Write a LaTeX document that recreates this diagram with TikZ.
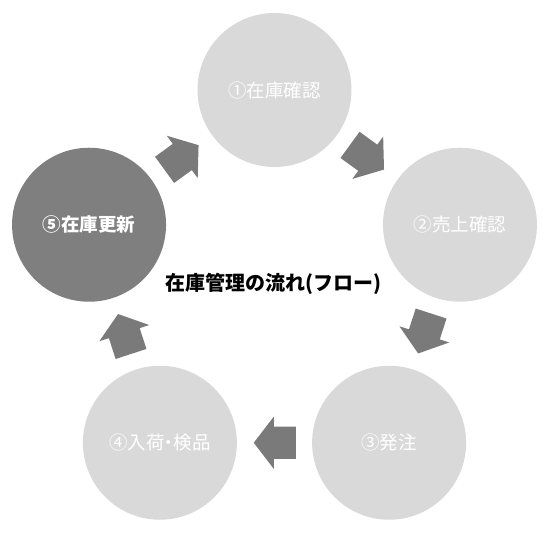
\documentclass[tikz,border=0pt]{standalone}
\usepackage{fontspec}
\newfontfamily\jp{Noto Sans CJK JP}
\usetikzlibrary{shapes.arrows,calc}
\definecolor{lightc}{HTML}{D9D9D9}
\definecolor{darkc}{HTML}{7F7F7F}
\definecolor{arrowc}{HTML}{7A7A7A}
\tikzset{
  stepcircle/.style={circle, fill=lightc, draw=none, minimum size=154pt, inner sep=0pt,
    text=white, font=\jp\fontsize{18.5}{22}\selectfont},
  activecircle/.style={stepcircle, fill=darkc, font=\jp\bfseries\fontsize{18.5}{22}\selectfont},
  blockarrow/.style={single arrow, fill=arrowc, draw=none, inner sep=0pt,
    minimum height=42pt, minimum width=52pt, single arrow head extend=10pt,
    single arrow tip angle=105, anchor=tip},
  titletext/.style={font=\jp\bfseries\fontsize{20}{24}\selectfont, text=black}
}
\newcommand{\shaftbox}{\rule{0pt}{32pt}}
\begin{document}
\begin{tikzpicture}[x=1pt,y=1pt]
\useasboundingbox (0,0) rectangle (551,537);
\coordinate (ctr) at (274.5,252);
\node[stepcircle]   (c1) at ($(ctr)+(90:195)$)   {①在庫確認};
\node[stepcircle]   (c2) at ($(ctr)+(18:195)$)   {②売上確認};
\node[stepcircle]   (c3) at ($(ctr)+(-54:195)$)  {③発注};
\node[stepcircle]   (c4) at ($(ctr)+(-126:195)$) {④入荷\kern-0.25em・\kern-0.25em検品};
\node[activecircle] (c5) at ($(ctr)+(162:195)$)  {⑤在庫更新};
\node[blockarrow, rotate=-36]  (a12) at ($(c1)!0.5916!(c2)$) {\shaftbox};
\node[blockarrow, rotate=-108] (a23) at ($(c2)!0.5916!(c3)$) {\shaftbox};
\node[blockarrow, rotate=180]  (a34) at ($(c3)!0.5916!(c4)$) {\shaftbox};
\node[blockarrow, rotate=108]  (a45) at ($(c4)!0.5916!(c5)$) {\shaftbox};
\node[blockarrow, rotate=36]   (a51) at ($(c5)!0.5916!(c1)$) {\shaftbox};
\node[titletext] (title) at (273,253) {在庫管理の流れ(フロー)};
\end{tikzpicture}
\end{document}
